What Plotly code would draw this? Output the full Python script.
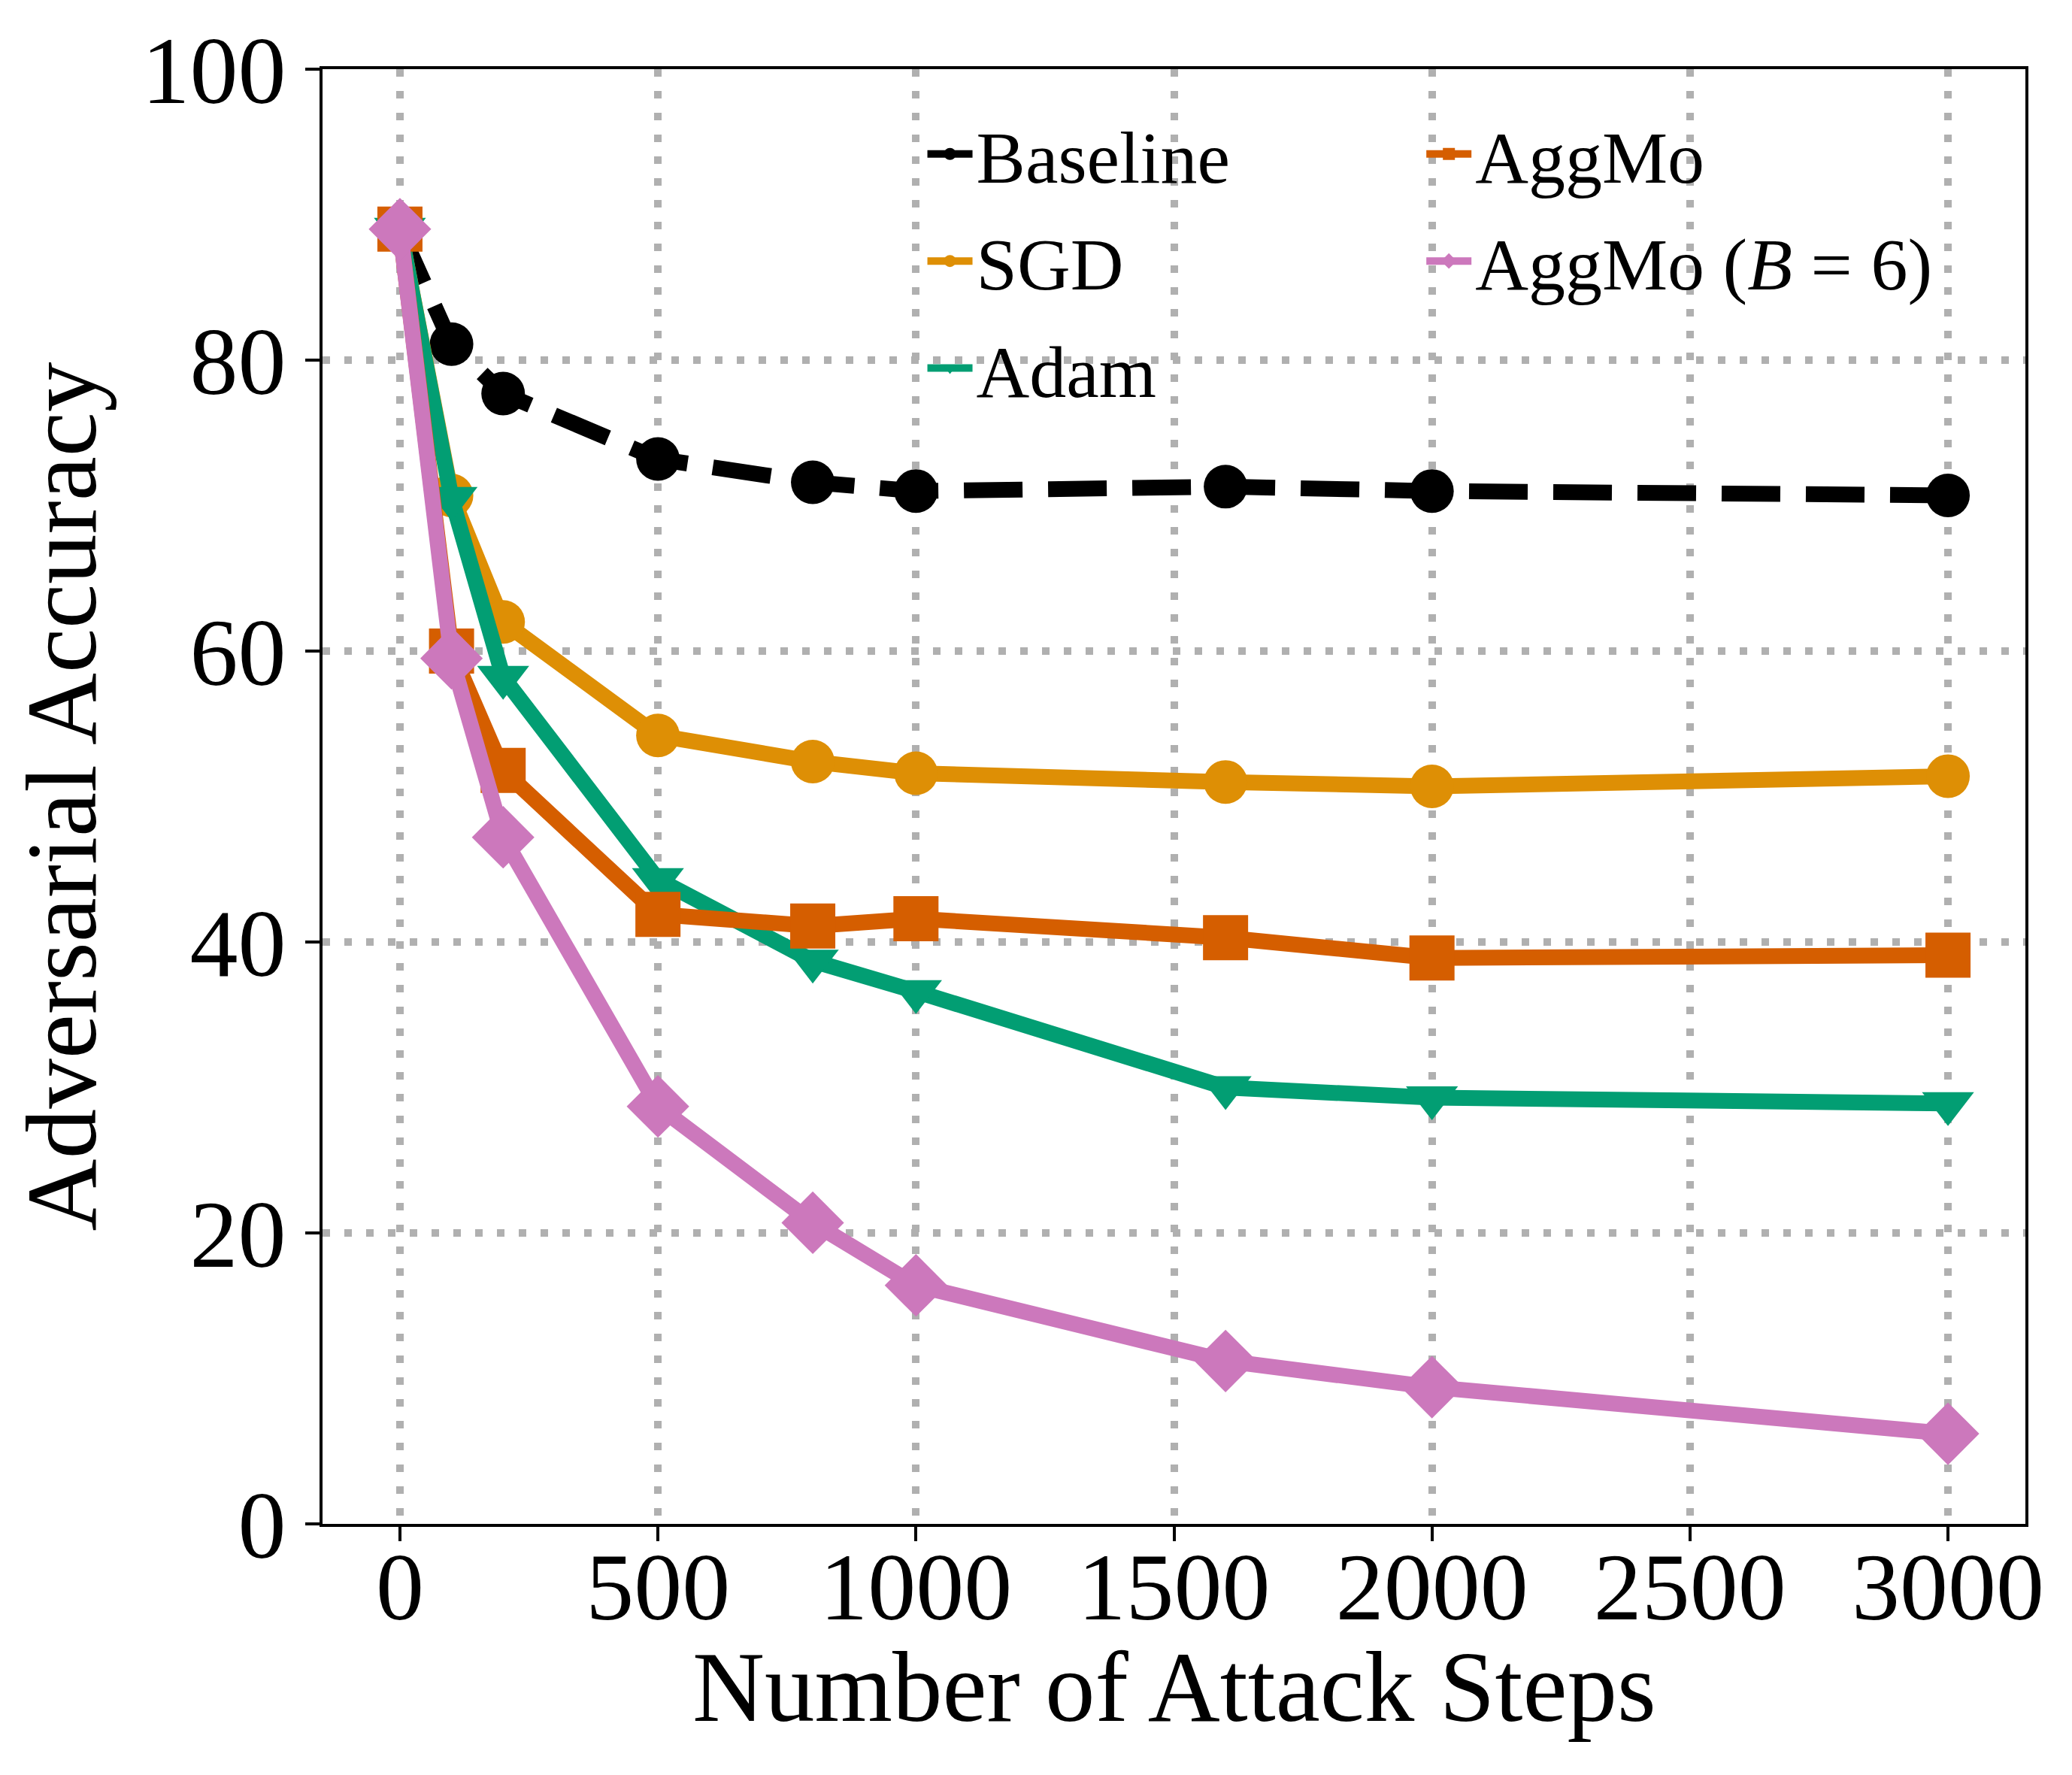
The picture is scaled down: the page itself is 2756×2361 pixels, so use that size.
import plotly.graph_objects as go

steps = [0, 100, 200, 500, 800, 1000, 1600, 2000, 3000]
baseline = [89.0, 81.1, 77.7, 73.2, 71.6, 71.0, 71.3, 71.0, 70.7]
sgd = [89.0, 70.7, 62.0, 54.2, 52.4, 51.6, 51.0, 50.7, 51.4]
adam = [89.0, 70.5, 58.2, 44.3, 38.7, 36.6, 30.0, 29.3, 28.9]
aggmo = [89.0, 60.0, 51.8, 41.9, 41.1, 41.6, 40.3, 38.9, 39.1]
aggmo_b6 = [89.0, 59.5, 47.2, 28.7, 20.7, 16.4, 11.2, 9.4, 6.2]

x_ticks = [0, 500, 1000, 1500, 2000, 2500, 3000]
y_ticks = [0, 20, 40, 60, 80, 100]

FONT = "Liberation Serif"
LW = 21

fig = go.Figure()
series = [
    ("Baseline", baseline, "#000000", "circle", 58, "78px,34px", "legend"),
    ("SGD", sgd, "#de8f05", "circle", 58, "solid", "legend"),
    ("Adam", adam, "#029e73", "triangle-down", 60, "solid", "legend"),
    ("AggMo", aggmo, "#d55e00", "square", 60, "solid", "legend2"),
    ("AggMo (<i>B</i> = 6)", aggmo_b6, "#cc78bc", "diamond", 64, "solid", "legend2"),
]
for name, ys, color, sym, size, dash, leg in series:
    fig.add_trace(go.Scatter(
        x=steps, y=ys, name=name, mode="lines+markers",
        line=dict(color=color, width=LW, dash=dash),
        marker=dict(symbol=sym, size=size, color=color, line=dict(width=0)),
        legend=leg, legendgroup=name,
    ))

axis_common = dict(
    showline=True, mirror=True, linecolor="black", linewidth=4,
    ticks="outside", ticklen=19, tickwidth=4, tickcolor="black",
    showgrid=True, gridcolor="#b0b0b0", gridwidth=10, griddash="10px,19px",
    zeroline=False, tickfont=dict(family=FONT, size=128, color="black"),
)

fig.update_layout(
    width=2756, height=2361,
    margin=dict(l=421, r=70, t=84, b=342),
    paper_bgcolor="white", plot_bgcolor="white",
    font=dict(family=FONT, color="black"),
    xaxis=dict(range=[-150, 3150], tickvals=x_ticks, ticklabelstandoff=-50, **axis_common),
    yaxis=dict(range=[0, 100], tickvals=y_ticks,
               title=dict(text="Adversarial Accuracy", font=dict(family=FONT, size=133), standoff=35),
               **axis_common),
    legend=dict(x=0.353, y=0.978, xanchor="left", yanchor="top",
                bgcolor="rgba(0,0,0,0)", font=dict(family=FONT, size=98),
                tracegroupgap=12, itemwidth=60),
    legend2=dict(x=0.646, y=0.978, xanchor="left", yanchor="top",
                 bgcolor="rgba(0,0,0,0)", font=dict(family=FONT, size=98),
                 tracegroupgap=12, itemwidth=60),
    showlegend=True,
    annotations=[dict(
        text="Number of Attack Steps", xref="paper", yref="paper",
        x=0.5, y=0, xanchor="center", yanchor="middle", yshift=-217,
        showarrow=False, font=dict(family=FONT, size=133, color="black"),
    )],
)

fig.write_html("out.html")
